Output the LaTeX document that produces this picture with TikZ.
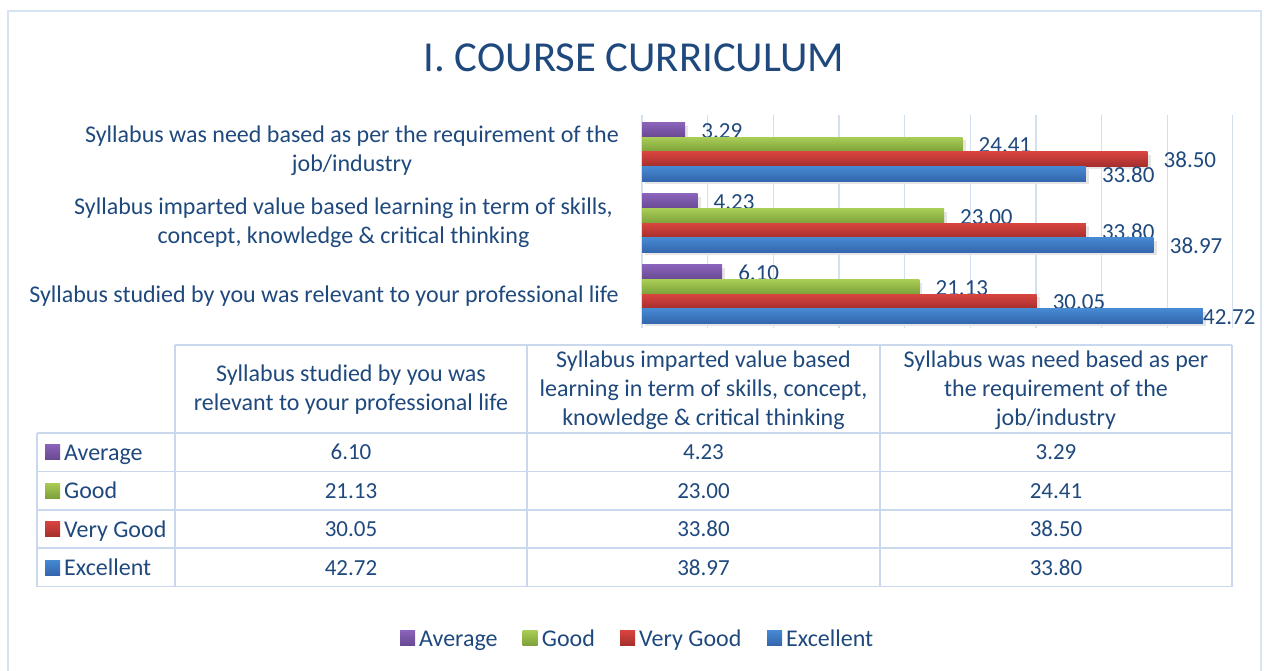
\documentclass[tikz,border=0pt]{standalone}
\usepackage{fontspec}
\setmainfont{Carlito}
\definecolor{txt}{HTML}{1F497D}
\definecolor{gridc}{HTML}{D5E0EE}
\definecolor{tabc}{HTML}{C9D8EC}
\definecolor{frame}{HTML}{D6E3F2}
\definecolor{pur1}{HTML}{8A63BA}\definecolor{pur2}{HTML}{684892}
\definecolor{grn1}{HTML}{A8CC55}\definecolor{grn2}{HTML}{7EA03A}
\definecolor{red1}{HTML}{D8443F}\definecolor{red2}{HTML}{A52E2C}
\definecolor{blu1}{HTML}{4689D3}\definecolor{blu2}{HTML}{3366AC}
\tikzset{
  lbl/.style={text=txt, font=\fontsize{24}{29}\selectfont, inner sep=0pt},
  num/.style={text=txt, font=\fontsize{23}{28}\selectfont, inner sep=0pt},
  ttl/.style={text=txt, font=\fontsize{42.7}{50}\selectfont, inner sep=0pt},
  tline/.style={draw=tabc, line width=1.6pt},
  gline/.style={draw=gridc, line width=1.2pt},
}
\begin{document}
\begin{tikzpicture}[x=1pt,y=-1pt]
\useasboundingbox (0,0) rectangle (1264,671);
% outer frame
\draw[frame, line width=1.6pt] (8,680) -- (8,11) -- (1261,11) -- (1261,680);
% title
\node[ttl] (title) at (634,58) {I. COURSE CURRICULUM};
% grid
\foreach \k in {0,...,9} {
  \draw[gline] ({642+\k*65.65},115) -- ({642+\k*65.65},328);
}
% bars
\def\sc{13.13}
\def\bh{14.6}
\foreach \g/\yt/\va/\vb/\vc/\vd/\off in {1/122.7/3.29/24.41/38.50/33.80/16, 2/194/4.23/23.00/33.80/38.97/16, 3/265/6.10/21.13/30.05/42.72/0} {
  \foreach \b/\v/\ca/\cb in {0/\va/pur1/pur2, 1/\vb/grn1/grn2, 2/\vc/red1/red2, 3/\vd/blu1/blu2} {
    \pgfmathsetmacro{\ya}{\yt+\b*\bh}
    \pgfmathsetmacro{\xe}{642+\v*\sc}
    \fill[black!10] (645,\ya+3) rectangle (\xe+3,\ya+\bh+3);
  }
  \foreach \b/\v/\ca/\cb in {0/\va/pur1/pur2, 1/\vb/grn1/grn2, 2/\vc/red1/red2, 3/\vd/blu1/blu2} {
    \pgfmathsetmacro{\ya}{\yt+\b*\bh}
    \pgfmathsetmacro{\xe}{642+\v*\sc}
    \pgfmathsetmacro{\lo}{\b==3 ? \off : 16}
    \shade[top color=\ca, bottom color=\cb] (642,\ya) rectangle (\xe,\ya+\bh);
    \node[num, anchor=west] (v\g\b) at (\xe+\lo,\ya+\bh/2+1) {\v};
  }
}
% category labels
\node[lbl, anchor=east, align=center] (c1) at (619,151) {Syllabus was need based as per the requirement of the\\job/industry};
\node[lbl, anchor=east, align=center] (c2) at (613,223) {Syllabus imparted value based learning in term of skills,\\concept, knowledge \& critical thinking};
\node[lbl, anchor=base east] (c3) at (619,302) {Syllabus studied by you was relevant to your professional life};
% table
\draw[tline] (175,345) -- (1232,345);
\foreach \y in {433,471.5,510,548,586.5} { \draw[tline] (37,\y) -- (1232,\y); }
\draw[tline] (37,433) -- (37,586.5);
\foreach \x in {175,527,880,1232} { \draw[tline] (\x,345) -- (\x,586.5); }
\node[lbl, align=center] (h1) at (351,390) {Syllabus studied by you was\\relevant to your professional life};
\node[lbl, align=center] (h2) at (703.5,390) {Syllabus imparted value based\\learning in term of skills, concept,\\knowledge \& critical thinking};
\node[lbl, align=center] (h3) at (1056,390) {Syllabus was need based as per\\the requirement of the\\job/industry};
\foreach \r/\y/\name/\ca/\cb/\a/\b/\c in {
  1/452/Average/pur1/pur2/6.10/4.23/3.29,
  2/490.75/Good/grn1/grn2/21.13/23.00/24.41,
  3/529/Very Good/red1/red2/30.05/33.80/38.50,
  4/567.5/Excellent/blu1/blu2/42.72/38.97/33.80} {
  \shade[top color=\ca, bottom color=\cb] (45,\y-7.5) rectangle (60,\y+7.5);
  \node[lbl, anchor=base west] (r\r) at (64,\y+8) {\name};
  \node[num, anchor=base] (ta\r) at (351,\y+7.5) {\a};
  \node[num, anchor=base] (tb\r) at (703.5,\y+7.5) {\b};
  \node[num, anchor=base] (tc\r) at (1056,\y+7.5) {\c};
}
% legend
\foreach \i/\x/\name/\ca/\cb in {1/400/Average/pur1/pur2, 2/522.7/Good/grn1/grn2, 3/620/Very Good/red1/red2, 4/767/Excellent/blu1/blu2} {
  \shade[top color=\ca, bottom color=\cb] (\x,630.5) rectangle (\x+15,645.5);
  \node[lbl, anchor=base west] (l\i) at (\x+19,646) {\name};
}
\end{tikzpicture}
\end{document}
